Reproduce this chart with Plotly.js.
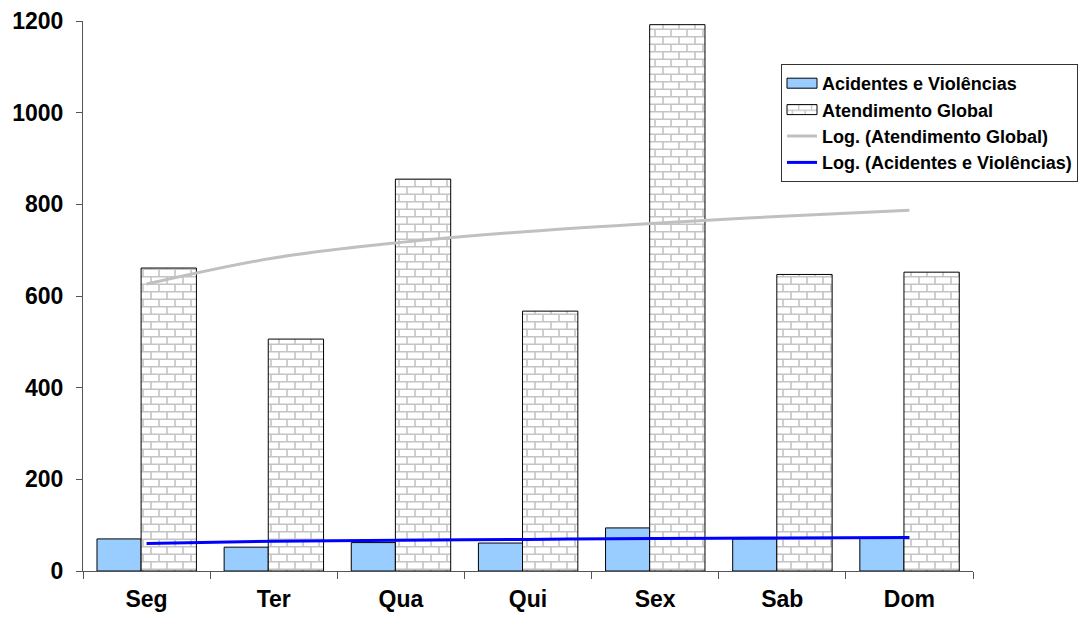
<!DOCTYPE html>
<html>
<head>
<meta charset="utf-8">
<script src="https://cdn.plot.ly/plotly-3.0.1.min.js"></script>
<style>
  html, body { margin: 0; padding: 0; background: #ffffff; }
  #chart { width: 1083px; height: 620px; }
</style>
</head>
<body>
<div id="chart"></div>
<script>
// ---- data ----
var categories = ["Seg", "Ter", "Qua", "Qui", "Sex", "Sab", "Dom"];
var acidentes = [70, 52, 62, 61, 94, 70, 73];
var atendimento = [661, 506, 855, 567, 1192, 647, 652];
// logarithmic trend lines
var trendAtendimento = [626, 683, 717, 741, 759, 774, 787];
var trendAcidentes = [60, 65, 67, 69, 71, 72, 73];
var yTicks = [0, 200, 400, 600, 800, 1000, 1200];

var FONT = "Liberation Sans, Arial, sans-serif";

var traces = [
  {
    type: "bar",
    name: "Acidentes e Violências",
    x: categories,
    y: acidentes,
    width: 0.347,
    offset: -0.39,
    marker: { color: "#99CCFF", line: { color: "#000000", width: 1 } },
    hoverinfo: "skip"
  },
  {
    type: "bar",
    name: "Atendimento Global",
    x: categories,
    y: atendimento,
    width: 0.435,
    offset: -0.043,
    marker: {
      color: "#ffffff",
      line: { color: "#000000", width: 1 },
      pattern: { shape: "+", fgcolor: "#c4c4c4", bgcolor: "#ffffff", size: 16, solidity: 0.15 }
    },
    hoverinfo: "skip"
  },
  {
    type: "scatter",
    mode: "lines",
    name: "Log. (Atendimento Global)",
    x: categories,
    y: trendAtendimento,
    line: { color: "#C0C0C0", width: 3, shape: "spline" },
    hoverinfo: "skip"
  },
  {
    type: "scatter",
    mode: "lines",
    name: "Log. (Acidentes e Violências)",
    x: categories,
    y: trendAcidentes,
    line: { color: "#0000FF", width: 3, shape: "spline" },
    hoverinfo: "skip"
  }
];

var layout = {
  width: 1083,
  height: 620,
  margin: { l: 83, r: 110, t: 21, b: 49, pad: 0, autoexpand: false },
  paper_bgcolor: "#ffffff",
  plot_bgcolor: "#ffffff",
  barmode: "overlay",
  showlegend: true,
  font: { family: FONT, color: "#000000" },
  xaxis: {
    type: "category",
    range: [-0.5, 6.5],
    tickson: "boundaries",
    ticks: "outside",
    ticklen: 7,
    tickcolor: "#555555",
    showline: true,
    linecolor: "#555555",
    linewidth: 1,
    showgrid: false,
    zeroline: false,
    automargin: false,
    ticklabelstandoff: 7,
    tickfont: { family: FONT, size: 23, weight: "bold", color: "#000000" }
  },
  yaxis: {
    range: [0, 1200],
    tickmode: "array",
    tickvals: yTicks,
    ticktext: yTicks.map(String),
    ticks: "outside",
    ticklen: 6,
    tickcolor: "#555555",
    showline: true,
    linecolor: "#555555",
    linewidth: 1,
    showgrid: false,
    zeroline: false,
    automargin: false,
    ticklabelstandoff: 8,
    tickfont: { family: FONT, size: 23, weight: "bold", color: "#000000" }
  },
  legend: {
    xref: "container",
    yref: "container",
    x: 781 / 1083,
    y: 1 - 64 / 620,
    xanchor: "left",
    yanchor: "top",
    bgcolor: "#ffffff",
    bordercolor: "#333333",
    borderwidth: 1,
    traceorder: "normal",
    itemwidth: 30,
    tracegroupgap: 0,
    font: { family: FONT, size: 18, weight: "bold", color: "#000000" }
  }
};

Plotly.newPlot("chart", traces, layout, { staticPlot: true, displayModeBar: false }).then(function () {
  // turn the library's pattern fill into a brick pattern
  try {
    var pats = document.querySelectorAll("#chart pattern");
    pats.forEach(function (p) {
      p.setAttribute("width", "16");
      p.setAttribute("height", "15");
      p.setAttribute("patternUnits", "userSpaceOnUse");
      p.innerHTML =
        '<rect x="0" y="0" width="16" height="15" fill="#ffffff"></rect>' +
        '<path d="M0,0.75H16M0,8.25H16M4,0.75V8.25M12,8.25V15" stroke="#c4c4c4" stroke-width="1.6" fill="none"></path>';
    });
    // widen the bar swatches in the legend, like the reference
    document.querySelectorAll("#chart .legend .legendpoints path.legendundefined, #chart .legend .legendbar path").forEach(function (p) {
      p.setAttribute("d", "M-15,-5H15V5H-15Z");
    });
  } catch (e) {}
});
</script>
</body>
</html>
